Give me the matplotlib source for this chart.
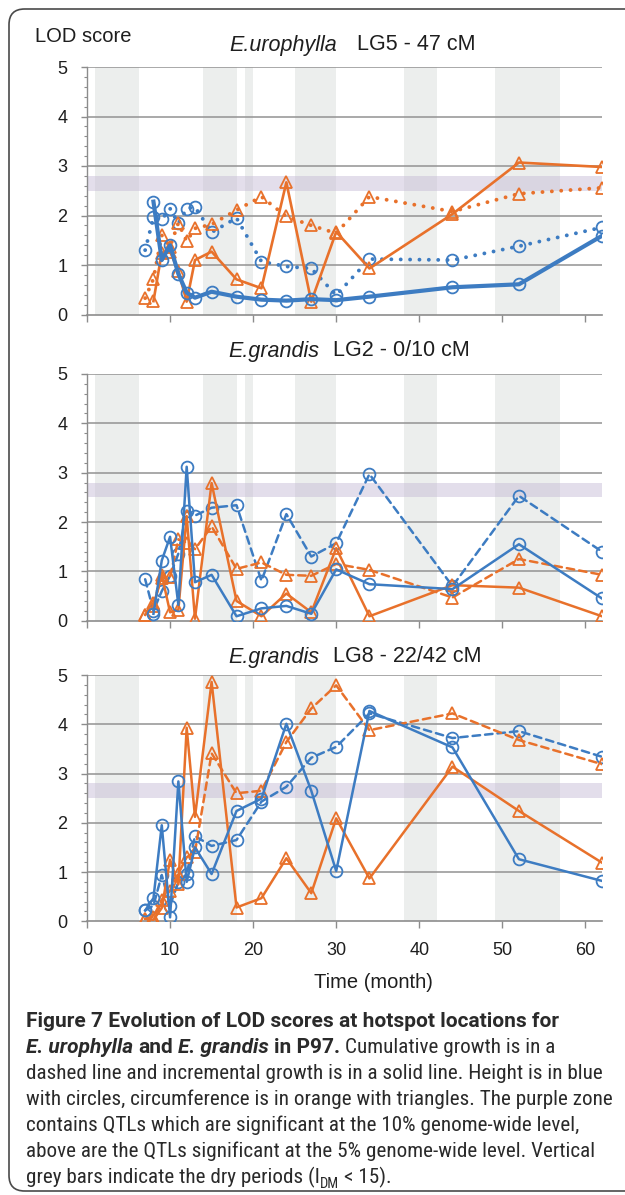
import matplotlib
matplotlib.use("Agg")
import matplotlib.pyplot as plt
import numpy as np
from matplotlib import font_manager
from matplotlib.font_manager import FontProperties
from matplotlib.patches import FancyBboxPatch

# ---------------- data ----------------
months = [7, 8, 9, 10, 11, 12, 13, 15, 18, 21, 24, 27, 30, 34, 44, 52, 62]
nan = np.nan

# E.urophylla LG5 - 47 cM
top_height_incr = [nan, 2.28, 1.10, 1.40, 0.82, 0.44, 0.34, 0.46, 0.36, 0.30, 0.28, 0.31, 0.29, 0.36, 0.55, 0.61, 1.59]
top_height_cum = [1.30, 1.96, 1.92, 2.14, 1.84, 2.14, 2.17, 1.66, 1.95, 1.07, 0.97, 0.93, 0.39, 1.12, 1.10, 1.38, 1.76]
top_circ_incr = [nan, 0.27, 1.25, 1.27, 0.88, 0.26, 1.10, 1.27, 0.71, 0.53, 2.67, 0.26, 1.67, 0.93, 2.03, 3.07, 2.98]
top_circ_cum = [0.33, 0.72, 1.60, 1.37, 1.85, 1.48, 1.74, 1.82, 2.11, 2.38, 1.98, 1.80, 1.64, 2.38, 2.08, 2.44, 2.56]

# E.grandis LG2 - 0/10 cM
mid_height_incr = [nan, 0.14, 1.22, 1.70, 0.32, 3.12, 0.78, 0.93, 0.09, 0.25, 0.30, 0.14, 1.04, 0.74, 0.64, 1.55, 0.45]
mid_height_cum = [0.84, 0.20, 0.60, 0.91, 1.36, 2.23, 2.13, 2.29, 2.34, 0.81, 2.16, 1.30, 1.57, 2.97, 0.70, 2.53, 1.40]
mid_circ_incr = [0.12, 0.30, 0.93, 0.17, 0.22, 2.12, 0.04, 2.79, 0.40, 0.09, 0.55, 0.17, 1.47, 0.09, 0.72, 0.67, 0.09]
mid_circ_cum = [0.12, 0.35, 0.87, 0.89, 1.65, 1.58, 1.45, 1.91, 1.05, 1.18, 0.93, 0.91, 1.15, 1.03, 0.47, 1.25, 0.93]

# E.grandis LG8 - 22/42 cM
bot_height_incr = [0.22, 0.47, 1.95, 0.08, 2.84, 0.80, 1.50, 0.96, 2.24, 2.49, 4.01, 2.65, 1.02, 4.27, 3.53, 1.26, 0.82]
bot_height_cum = [0.22, 0.32, 0.94, 0.32, 0.80, 0.96, 1.73, 1.53, 1.65, 2.43, 2.73, 3.32, 3.54, 4.22, 3.72, 3.86, 3.34]
bot_circ_incr = [0.05, 0.03, 0.27, 1.25, 0.75, 3.93, 2.12, 4.86, 0.28, 0.47, 1.28, 0.57, 2.09, 0.87, 3.14, 2.24, 1.19]
bot_circ_cum = [0.05, 0.09, 0.44, 0.62, 0.97, 1.30, 1.41, 3.41, 2.60, 2.65, 3.64, 4.32, 4.79, 3.88, 4.22, 3.68, 3.19]

dry_periods = [(1.0, 6.2), (14.0, 18.0), (19.0, 20.0), (25.0, 30.0), (38.2, 42.1), (49.1, 57.0)]
band_10pct = (2.5, 2.8)

titles_italic = ["E.urophylla", "E.grandis", "E.grandis"]
titles_normal = ["LG5 - 47 cM", "LG2 - 0/10 cM", "LG8 - 22/42 cM"]
x_ticks = [0, 10, 20, 30, 40, 50, 60]
y_ticks = [0, 1, 2, 3, 4, 5]

# ---------------- style ----------------
W, H = 625, 1195
BLUE = "#3d7cc2"
ORANGE = "#e8712b"
GRAY_BAR = "#eceeed"
PURPLE = "#c2b7d3"
GRID = "#929292"
TXT = "#1e1e1e"
chart_font = "Liberation Sans"


def has_font(name):
    try:
        font_manager.findfont(FontProperties(family=name), fallback_to_default=False)
        return True
    except Exception:
        return False


cap_font = "Open Sans"
for cand in ["Liberation Sans Narrow", "Roboto Condensed", "Open Sans Condensed", "Lato"]:
    if has_font(cand):
        cap_font = cand
        break
bold_font = "Roboto" if has_font("Roboto") else cap_font

fig = plt.figure(figsize=(W / 100, H / 100), dpi=100)

# frame around the figure
frame = FancyBboxPatch((9 / W, 1 - 1191 / H), (W + 40 - 9) / W, (1191 - 9) / H,
                       boxstyle="round,pad=0,rounding_size=0.025", transform=fig.transFigure,
                       facecolor="none", edgecolor="#4a4a4a", linewidth=1.2, mutation_aspect=W / H)
fig.patches.append(frame)

ax_left, ax_right = 87, 602
panels_px = [(67, 314.5), (374, 620.7), (675, 921.3)]
title_px = [(337, 357, 45), (319, 333, 351), (319, 333, 657)]

data = [
    (top_height_incr, top_height_cum, top_circ_incr, top_circ_cum),
    (mid_height_incr, mid_height_cum, mid_circ_incr, mid_circ_cum),
    (bot_height_incr, bot_height_cum, bot_circ_incr, bot_circ_cum),
]

for i, ((ytop, ybot), series) in enumerate(zip(panels_px, data)):
    ax = fig.add_axes([ax_left / W, 1 - ybot / H, (ax_right - ax_left) / W, (ybot - ytop) / H])
    ax.set_xlim(0, 62)
    ax.set_ylim(0, 5)
    ax.patch.set_alpha(0)
    for a, b in dry_periods:
        ax.axvspan(a, b, color=GRAY_BAR, lw=0, zorder=0)
    ax.axhspan(band_10pct[0], band_10pct[1], color=PURPLE, alpha=0.45, lw=0, zorder=0.5)
    for yv in y_ticks[1:]:
        ax.axhline(yv, color=GRID, lw=1.1, zorder=1)
    for s in ["top", "right"]:
        ax.spines[s].set_visible(False)
    ax.spines["left"].set_color("#8c8c8c")
    ax.spines["bottom"].set_color("#8c8c8c")
    ax.spines["bottom"].set_linewidth(1.2)
    ax.spines["left"].set_linewidth(1.0)
    ax.set_xticks(x_ticks)
    ax.set_yticks(y_ticks)
    ax.set_yticks(np.arange(0, 5.01, 0.2), minor=True)
    ax.tick_params(axis="y", which="major", length=4, width=1, color="#8c8c8c", pad=10,
                   labelsize=13, labelcolor=TXT)
    ax.tick_params(axis="y", which="minor", length=2.5, width=0.8, color="#8c8c8c")
    ax.tick_params(axis="x", which="major", length=5, width=1, color="#8c8c8c", pad=10,
                   labelsize=13, labelcolor=TXT)
    for lab in ax.get_yticklabels() + ax.get_xticklabels():
        lab.set_family(chart_font)
    if i < 2:
        ax.set_xticklabels([])

    h_incr, h_cum, c_incr, c_cum = series
    if i == 0:
        cum_ls = (0, (0.01, 2.4))
        cum_lw = 2.8
        h_incr_lw = 3.0
        c_incr_lw = 1.9
    else:
        cum_ls = (0, (3.0, 2.0))
        cum_lw = 1.8
        h_incr_lw = 1.8
        c_incr_lw = 1.8
    mk = dict(markerfacecolor="none", markersize=8.5, markeredgewidth=1.3)
    ax.plot(months, h_cum, color=BLUE, ls=cum_ls, lw=cum_lw, dash_capstyle="round",
            marker="o", zorder=3, **mk)
    ax.plot(months, c_cum, color=ORANGE, ls=cum_ls, lw=cum_lw, dash_capstyle="round",
            marker="^", zorder=3, **mk)
    ax.plot(months, c_incr, color=ORANGE, ls="-", lw=c_incr_lw, marker="^", zorder=4, **mk)
    ax.plot(months, h_incr, color=BLUE, ls="-", lw=h_incr_lw, marker="o", zorder=4, **mk)

    xr, xl, yc = title_px[i]
    fig.text(xr / W, 1 - yc / H, titles_italic[i], ha="right", va="center", fontsize=15.5,
             fontstyle="italic", family=chart_font, color=TXT)
    fig.text(xl / W, 1 - yc / H, titles_normal[i], ha="left", va="center", fontsize=15.5,
             family=chart_font, color=TXT)

fig.text(35 / W, 1 - 37 / H, "LOD score", ha="left", va="center", fontsize=14.5,
         family=chart_font, color=TXT)
fig.text(373 / W, 1 - 983 / H, "Time (month)", ha="center", va="center", fontsize=14.5,
         family=chart_font, color=TXT)

# ---------------- caption ----------------
renderer = fig.canvas.get_renderer()


def text_w(s, size, weight="normal", style="normal", family=None):
    t = fig.text(0, 0, s, fontsize=size, fontweight=weight, fontstyle=style,
                 family=family or cap_font)
    w = t.get_window_extent(renderer=renderer).width
    t.remove()
    return w


ref_line = "with circles, circumference is in orange with triangles. The purple zone"
cap_size = 10 * 583 / text_w(ref_line, 10)
space_w = text_w("x x", cap_size) - text_w("xx", cap_size)

line1 = "Figure 7 Evolution of LOD scores at hotspot locations for"
bold_size = 10 * 533 / text_w(line1, 10, "bold", "normal", bold_font)
bold_size = min(max(bold_size, cap_size * 0.9), cap_size * 1.1)
bold_space = text_w("x x", bold_size, "bold", "normal", bold_font) - text_w("xx", bold_size, "bold", "normal", bold_font)

caption = [
    [(line1, "bold", "normal", False)],
    [("E. urophylla", "bold", "italic", False), (" ", "bsp", None, None), ("and", "bold", "normal", False),
     (" ", "bsp", None, None), ("E. grandis", "bold", "italic", False), (" ", "bsp", None, None),
     ("in P97.", "bold", "normal", False), (" ", "sp", None, None),
     ("Cumulative growth is in a", "normal", "normal", False)],
    [("dashed line and incremental growth is in a solid line. Height is in blue", "normal", "normal", False)],
    [(ref_line, "normal", "normal", False)],
    [("contains QTLs which are significant at the 10% genome-wide level,", "normal", "normal", False)],
    [("above are the QTLs significant at the 5% genome-wide level. Vertical", "normal", "normal", False)],
    [("grey bars indicate the dry periods (I", "normal", "normal", False), ("DM", "normal", "normal", True),
     (" ", "sp", None, None), ("< 15).", "normal", "normal", False)],
]
cap_x0 = 26
cap_base0 = 1027
cap_step = 26
for li, segs in enumerate(caption):
    x = cap_x0
    base = cap_base0 + li * cap_step
    for s, w, st, sub in segs:
        if w == "sp":
            x += space_w
            continue
        if w == "bsp":
            x += bold_space
            continue
        if w == "bold":
            fs, fam = bold_size, bold_font
        else:
            fs, fam = cap_size, cap_font
        if sub:
            fs = fs * 0.68
        yy = base + (cap_size * 0.3 if sub else 0)
        t = fig.text(x / W, 1 - yy / H, s, ha="left", va="baseline", fontsize=fs, fontweight=w,
                     fontstyle=st, family=fam, color="#2a2a2a")
        x = t.get_window_extent(renderer=renderer).x1

fig.savefig("out.png", dpi=100)
